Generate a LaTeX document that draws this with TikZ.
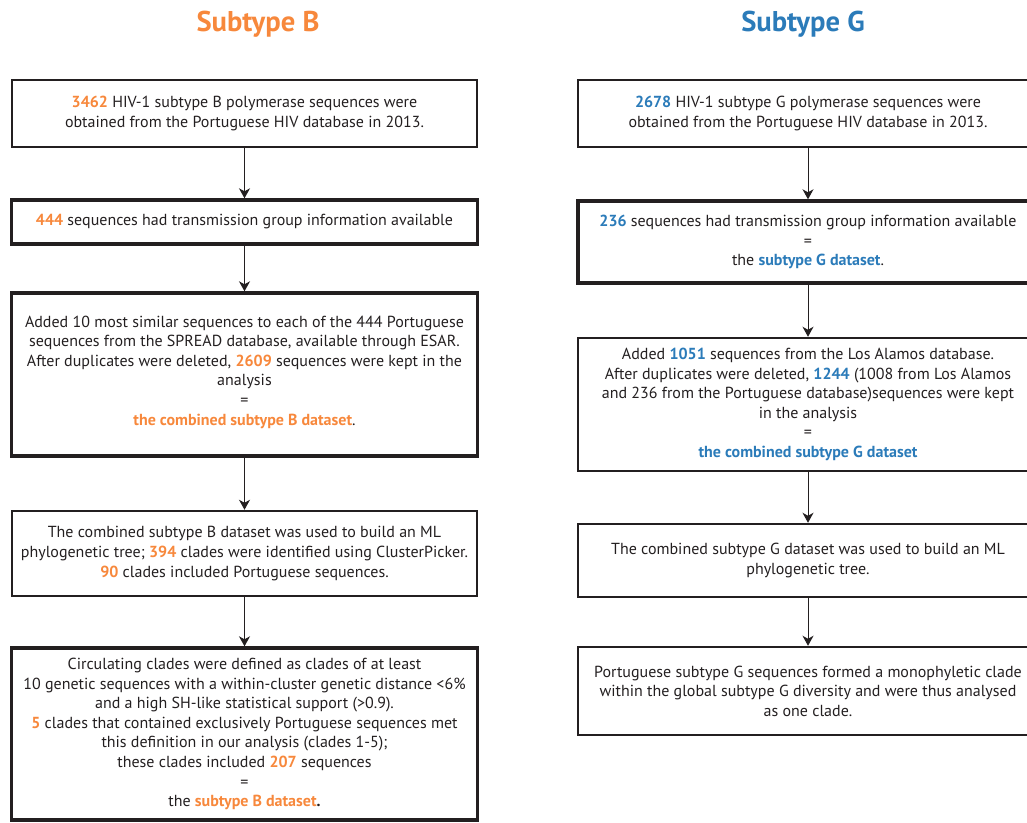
\documentclass[tikz,border=0pt]{standalone}
\usepackage{fontspec}
\setmainfont{PT Sans}
\usetikzlibrary{arrows.meta}

\definecolor{subBorange}{HTML}{F7883C}
\definecolor{subGblue}{HTML}{2B7BB9}
\definecolor{boxline}{HTML}{231F20}

\newcommand{\hlB}[1]{\textbf{\color{subBorange}#1}}
\newcommand{\hlG}[1]{\textbf{\color{subGblue}#1}}

\begin{document}
\begin{tikzpicture}[
    x = 1pt,
    y = -1pt,
    >={Stealth[length=10pt, width=11pt, inset=3pt]},
    flowbox/.style = {draw=boxline, rectangle, align=center, inner sep=2pt,
    text=boxline, font=\fontsize{16}{19.6}\selectfont},
    thinbox/.style = {flowbox, line width=1.8pt},
    midbox/.style = {flowbox, line width=2.5pt},
    thickbox/.style = {flowbox, line width=3.4pt},
    heading/.style = {font=\fontsize{28.6}{32}\selectfont\bfseries},
    link/.style = {->, draw=boxline, line width=1pt},
]

\clip (0,0) rectangle (1027,822);

% titles
\node[heading, text=subBorange] (head_B) at (258,24) {Subtype B};
\node[heading, text=subGblue] (head_G) at (803,24) {Subtype G};

% subtype B column
\node[thinbox, minimum width=465pt, minimum height=67pt] (boxB_1) at (244.5,113.5)
  {\hlB{3462} HIV-1 subtype B polymerase sequences were\\
   obtained from the Portuguese HIV database in 2013.};
\node[thickbox, minimum width=466pt, minimum height=44pt] (boxB_2) at (244.5,222)
  {\hlB{444} sequences had transmission group information available};
\node[thickbox, minimum width=466pt, minimum height=163pt] (boxB_3) at (244.5,374.5)
  {Added 10 most similar sequences to each of the 444 Portuguese\\
   sequences from the SPREAD database, available through ESAR.\\
   After duplicates were deleted, \hlB{2609} sequences were kept in the\\
   analysis\\
   =\\
   \hlB{the combined subtype B dataset}.\\[-11.5pt]};
\node[midbox, minimum width=465pt, minimum height=85pt] (boxB_4) at (244.5,553.5)
  {The combined subtype B dataset was used to build an ML\\
   phylogenetic tree; \hlB{394} clades were identified using ClusterPicker.\\
   \hlB{90} clades included Portuguese sequences.};
\node[thickbox, minimum width=466pt, minimum height=172pt] (boxB_5) at (244.5,734)
  {Circulating clades were defined as clades of at least\\
   10 genetic sequences with a within-cluster genetic distance <6\%\\
   and a high SH-like statistical support (>0.9).\\
   \hlB{5} clades that contained exclusively Portuguese sequences met\\
   this definition in our analysis (clades 1-5);\\
   these clades included \hlB{207} sequences\\
   =\\
   the \hlB{subtype B dataset}\textbf{.}};

% subtype G column
\node[thinbox, minimum width=460pt, minimum height=67pt] (boxG_1) at (808,113.5)
  {\hlG{2678} HIV-1 subtype G polymerase sequences were\\
   obtained from the Portuguese HIV database in 2013.};
\node[thickbox, minimum width=460pt, minimum height=82pt] (boxG_2) at (808,242)
  {\hlG{236} sequences had transmission group information available\\
   =\\
   the \hlG{subtype G dataset}.};
\node[midbox, minimum width=460pt, minimum height=133pt] (boxG_3) at (808,404.5)
  {Added \hlG{1051} sequences from the Los Alamos database.\\
   After duplicates were deleted, \hlG{1244} (1008 from Los Alamos\\
   and 236 from the Portuguese database)sequences were kept\\
   in the analysis\\
   =\\
   \hlG{the combined subtype G dataset}};
\node[midbox, minimum width=460pt, minimum height=73pt] (boxG_4) at (808,560.5)
  {The combined subtype G dataset was used to build an ML\\
   phylogenetic tree.};
\node[midbox, minimum width=460pt, minimum height=88pt] (boxG_5) at (808,691)
  {Portuguese subtype G sequences formed a monophyletic clade\\
   within the global subtype G diversity and were thus analysed\\
   as one clade.};

\draw [link] (boxB_1) -- (boxB_2);
\draw [link] (boxB_2) -- (boxB_3);
\draw [link] (boxB_3) -- (boxB_4);
\draw [link] (boxB_4) -- (boxB_5);

\draw [link] (boxG_1) -- (boxG_2);
\draw [link] (boxG_2) -- (boxG_3);
\draw [link] (boxG_3) -- (boxG_4);
\draw [link] (boxG_4) -- (boxG_5);

\end{tikzpicture}
\end{document}
